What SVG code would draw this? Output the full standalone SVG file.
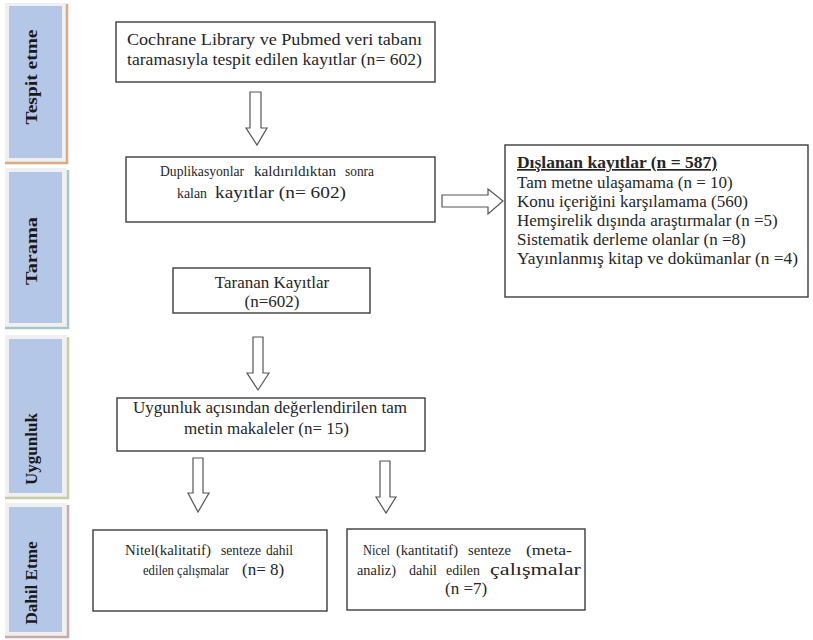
<svg xmlns="http://www.w3.org/2000/svg" width="813" height="640" viewBox="0 0 813 640">
  <style>
    .bg { fill: #ffffff; }
    .frame { fill: #f0f0f0; }
    .phase { fill: #b4c7e7; }
    .phase-label { font-family: "Liberation Serif", "Times New Roman", serif; font-weight: bold; font-size: 17px; fill: #1a1a1a; }
    .box { fill: #ffffff; stroke: #3c3c3c; stroke-width: 1.4; }
    .txt { font-family: "Liberation Serif", "Times New Roman", serif; font-size: 17px; fill: #262626; }
    .sm { font-family: "Liberation Serif", "Times New Roman", serif; font-size: 14.5px; fill: #262626; }
    .arrow { fill: #ffffff; stroke: #555555; stroke-width: 1.2; stroke-linejoin: miter; }
  </style>

  <rect class="bg" x="0" y="0" width="813" height="640"/>

  <!-- phase side bars -->
  <g id="phase-tespit">
    <rect class="frame" x="5" y="3" width="62" height="161"/>
    <rect class="phase" x="9" y="6" width="53" height="152"/>
    <path d="M67 4 V163 H5" fill="none" stroke="#d9aa84" stroke-width="2.5"/>
    <text class="phase-label" transform="translate(37 77) rotate(-90)" text-anchor="middle" textLength="95" lengthAdjust="spacingAndGlyphs">Tespit etme</text>
  </g>
  <g id="phase-tarama">
    <rect class="frame" x="5" y="168" width="62" height="160"/>
    <rect class="phase" x="9" y="172" width="53" height="151"/>
    <path d="M68 170 V328 H5" fill="none" stroke="#a9c6c6" stroke-width="2.5"/>
    <text class="phase-label" transform="translate(37 251) rotate(-90)" text-anchor="middle" textLength="68" lengthAdjust="spacingAndGlyphs">Tarama</text>
  </g>
  <g id="phase-uygunluk">
    <rect class="frame" x="5" y="335" width="62" height="164"/>
    <rect class="phase" x="9" y="339" width="53" height="154"/>
    <path d="M68 337 V498 H5" fill="none" stroke="#c5cda9" stroke-width="2.5"/>
    <text class="phase-label" transform="translate(37 449) rotate(-90)" text-anchor="middle" textLength="72" lengthAdjust="spacingAndGlyphs">Uygunluk</text>
  </g>
  <g id="phase-dahil">
    <rect class="frame" x="5" y="503" width="62" height="135"/>
    <rect class="phase" x="9" y="507" width="53" height="125"/>
    <path d="M68 505 V637 H5" fill="none" stroke="#c9a9a9" stroke-width="2.5"/>
    <text class="phase-label" transform="translate(37 583) rotate(-90)" text-anchor="middle" textLength="83" lengthAdjust="spacingAndGlyphs">Dahil Etme</text>
  </g>

  <!-- flow boxes -->
  <g id="node-identified">
    <rect class="box" x="116" y="22" width="319" height="60"/>
    <text class="txt" x="127" y="45" textLength="295" lengthAdjust="spacingAndGlyphs">Cochrane Library ve Pubmed veri tabanı</text>
    <text class="txt" x="127" y="65" textLength="295" lengthAdjust="spacingAndGlyphs">taramasıyla tespit edilen kayıtlar (n= 602)</text>
  </g>

  <g id="node-deduplicated">
    <rect class="box" x="126" y="157" width="309" height="65"/>
    <text class="sm" x="160" y="176" textLength="84" lengthAdjust="spacingAndGlyphs">Duplikasyonlar</text>
    <text class="sm" x="254" y="176" textLength="82" lengthAdjust="spacingAndGlyphs">kaldırıldıktan</text>
    <text class="sm" x="345" y="176" textLength="29" lengthAdjust="spacingAndGlyphs">sonra</text>
    <text class="sm" x="177" y="198" textLength="30" lengthAdjust="spacingAndGlyphs">kalan</text>
    <text class="txt" x="215" y="198" font-size="20" textLength="131" lengthAdjust="spacingAndGlyphs">kayıtlar (n= 602)</text>
  </g>

  <g id="node-screened">
    <rect class="box" x="173" y="268" width="197" height="45"/>
    <text class="txt" x="272" y="288" text-anchor="middle" font-size="17.5">Taranan Kayıtlar</text>
    <text class="txt" x="272" y="307" text-anchor="middle" font-size="17.5">(n=602)</text>
  </g>

  <g id="node-excluded">
    <rect class="box" x="505" y="145" width="303" height="152"/>
    <text class="txt" x="517" y="168" font-weight="bold" text-decoration="underline" textLength="200" lengthAdjust="spacingAndGlyphs">Dışlanan kayıtlar (n = 587)</text>
    <text class="txt" x="517" y="188">Tam metne ulaşamama (n = 10)</text>
    <text class="txt" x="517" y="207">Konu içeriğini karşılamama (560)</text>
    <text class="txt" x="517" y="226">Hemşirelik dışında araştırmalar (n =5)</text>
    <text class="txt" x="517" y="245">Sistematik derleme olanlar (n =8)</text>
    <text class="txt" x="517" y="264" textLength="281" lengthAdjust="spacingAndGlyphs">Yayınlanmış kitap ve dokümanlar (n =4)</text>
  </g>

  <g id="node-eligibility">
    <rect class="box" x="117" y="398" width="308" height="53"/>
    <text class="txt" x="133" y="413" textLength="274" lengthAdjust="spacingAndGlyphs">Uygunluk açısından değerlendirilen tam</text>
    <text class="txt" x="184" y="434">metin makaleler (n= 15)</text>
  </g>

  <g id="node-qualitative">
    <rect class="box" x="93" y="530" width="234" height="81"/>
    <text class="sm" x="125" y="555" textLength="86" lengthAdjust="spacingAndGlyphs">Nitel(kalitatif)</text>
    <text class="sm" x="221" y="555" textLength="40" lengthAdjust="spacingAndGlyphs">senteze</text>
    <text class="sm" x="266" y="555" textLength="27" lengthAdjust="spacingAndGlyphs">dahil</text>
    <text class="sm" x="143" y="575" textLength="86" lengthAdjust="spacingAndGlyphs">edilen çalışmalar</text>
    <text class="txt" x="242" y="575" font-size="16">(n= 8)</text>
  </g>

  <g id="node-quantitative">
    <rect class="box" x="347" y="529" width="238" height="81"/>
    <text class="sm" x="363" y="555" textLength="27" lengthAdjust="spacingAndGlyphs">Nicel</text>
    <text class="sm" x="396" y="555" textLength="62" lengthAdjust="spacingAndGlyphs">(kantitatif)</text>
    <text class="sm" x="468" y="555" textLength="43" lengthAdjust="spacingAndGlyphs">senteze</text>
    <text class="sm" x="526" y="555" textLength="46" lengthAdjust="spacingAndGlyphs">(meta-</text>
    <text class="sm" x="357" y="575" textLength="39" lengthAdjust="spacingAndGlyphs">analiz)</text>
    <text class="sm" x="409" y="575" textLength="28" lengthAdjust="spacingAndGlyphs">dahil</text>
    <text class="sm" x="446" y="575" textLength="34" lengthAdjust="spacingAndGlyphs">edilen</text>
    <text class="txt" x="490" y="575" font-size="19.5" textLength="91" lengthAdjust="spacingAndGlyphs">çalışmalar</text>
    <text class="txt" x="445" y="594" font-size="16">(n =7)</text>
  </g>

  <!-- block arrows between boxes -->
  <g id="connectors">
    <path class="arrow" d="M250 92 H261 V128 H267 L257 145 L246 128 H250 Z"/>
    <path class="arrow" d="M442 195 H488 V189 L503 201 L488 214 V207 H442 Z"/>
    <path class="arrow" d="M253 337 H263 V373 H269 L258 390 L247 373 H253 Z"/>
    <path class="arrow" d="M193 458 H203 V493 H209 L198 512 L188 493 H193 Z"/>
    <path class="arrow" d="M380 461 H390 V497 H396 L386 513 L376 497 H380 Z"/>
  </g>
</svg>
